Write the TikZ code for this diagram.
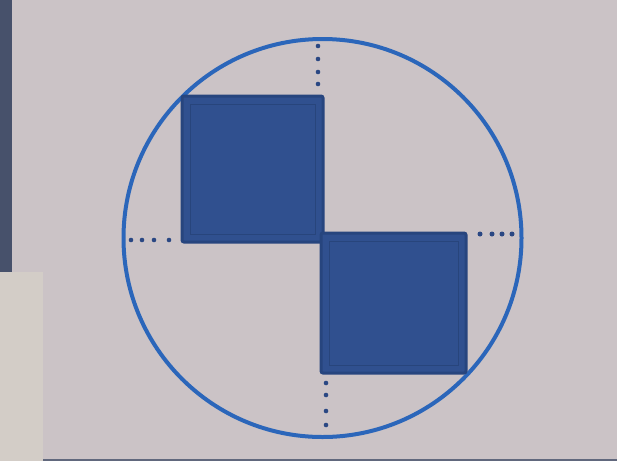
\documentclass[tikz,border=0pt]{standalone}
\definecolor{paper}{HTML}{CBC3C6}
\definecolor{strip}{HTML}{47516B}
\definecolor{beige}{HTML}{D3CDC7}
\definecolor{ring}{HTML}{2B66BA}
\definecolor{sqfill}{HTML}{30508F}
\definecolor{sqedge}{HTML}{27457E}
\definecolor{dotc}{HTML}{2A4783}
\tikzset{
  sq/.style={fill=sqfill, draw=sqedge, line width=3pt, rounded corners=2pt},
  dotmark/.style={fill=dotc, draw=none},
}
\begin{document}
\begin{tikzpicture}[x=1pt,y=-1pt]
\useasboundingbox (0,0) rectangle (617,461);
\fill[paper] (0,0) rectangle (617,461);
\fill[strip] (0,0) rectangle (12,272);
\fill[beige] (0,272) rectangle (43,461);
\fill[strip!80!paper] (43,459) rectangle (617,461);
% circle
\draw[ring, line width=4pt] (322.5,238) circle[radius=199];
% squares
\draw[sq] (182,96) rectangle (323,242);
\draw[sq] (321,233) rectangle (466,373);
% inner marker strokes
\draw[sqedge!85!black, line width=1pt, opacity=0.5] (190,104) rectangle (315,234);
\draw[sqedge!85!black, line width=1pt, opacity=0.5] (329,241) rectangle (458,365);
% dots
\foreach \y in {46,59,72,84} \fill[dotmark] (318,\y) circle[radius=2.3];
\foreach \x in {131,142,154,169} \fill[dotmark] (\x,240) circle[radius=2.3];
\foreach \x in {480,492,502,512} \fill[dotmark] (\x,234) circle[radius=2.5];
\foreach \y in {383,395,411,425} \fill[dotmark] (326,\y) circle[radius=2.3];
\end{tikzpicture}
\end{document}
